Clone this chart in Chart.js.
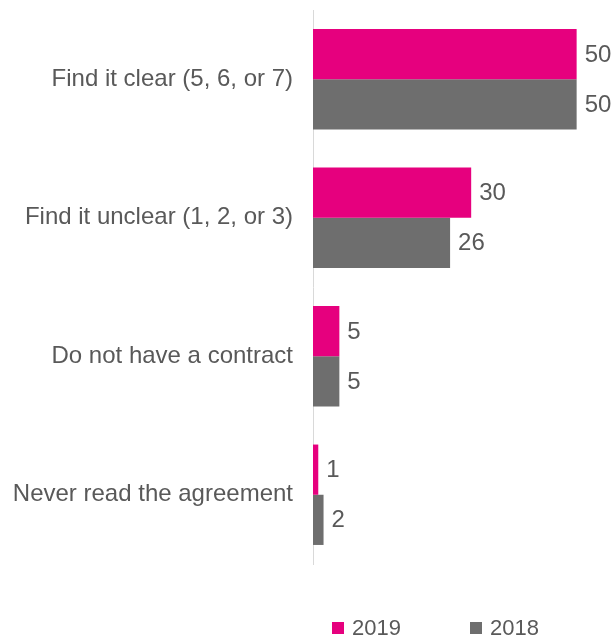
<!DOCTYPE html>
<html lang="en">
<head>
  <meta charset="UTF-8">
  <title>Contract clarity</title>
  <script src="https://cdn.jsdelivr.net/npm/chart.js"></script>
  <style>
    html, body { margin: 0; padding: 0; background: #fff; }
    #wrap { width: 613px; height: 640px; position: relative; }
  </style>
</head>
<body>
  <div id="wrap">
    <canvas id="grafico"></canvas>
  </div>
  <script>
    const categorias = [
      'Find it clear (5, 6, or 7)',
      'Find it unclear (1, 2, or 3)',
      'Do not have a contract',
      'Never read the agreement'
    ];
    const valores2019 = [50, 30, 5, 1];
    const valores2018 = [50, 26, 5, 2];
    const seriesLabels = ['2019', '2018'];

    const corTexto = '#595959';
    const fonte = 'Liberation Sans, Arial, sans-serif';

    // numero no fim de cada barra
    const rotulosValor = {
      id: 'rotulosValor',
      afterDatasetsDraw(chart) {
        const ctx = chart.ctx;
        ctx.save();
        ctx.fillStyle = corTexto;
        ctx.font = '24px ' + fonte;
        ctx.textAlign = 'left';
        ctx.textBaseline = 'middle';
        chart.data.datasets.forEach((ds, i) => {
          chart.getDatasetMeta(i).data.forEach((bar, j) => {
            ctx.fillText(ds.data[j], bar.x + 8, bar.y + 1);
          });
        });
        ctx.restore();
      }
    };

    // legenda desenhada na mao, embaixo
    const legendaBaixo = {
      id: 'legendaBaixo',
      afterDraw(chart) {
        const ctx = chart.ctx;
        const posX = [332, 470];
        const y = 628;
        ctx.save();
        ctx.font = '22px ' + fonte;
        ctx.textBaseline = 'middle';
        chart.data.datasets.forEach((ds, i) => {
          ctx.fillStyle = ds.backgroundColor;
          ctx.fillRect(posX[i], y - 6, 12, 12);
          ctx.fillStyle = corTexto;
          ctx.fillText(ds.label, posX[i] + 20, y + 1);
        });
        ctx.restore();
      }
    };

    const ctx = document.getElementById('grafico').getContext('2d');
    const grafico = new Chart(ctx, {
      type: 'bar',
      data: {
        labels: categorias,
        datasets: [
          {
            label: seriesLabels[0],
            data: valores2019,
            backgroundColor: '#E6007E',
            categoryPercentage: 0.725,
            barPercentage: 1
          },
          {
            label: seriesLabels[1],
            data: valores2018,
            backgroundColor: '#6E6E6E',
            categoryPercentage: 0.725,
            barPercentage: 1
          }
        ]
      },
      options: {
        indexAxis: 'y',
        responsive: true,
        maintainAspectRatio: false,
        animation: false,
        layout: { padding: { top: 10, bottom: 76, right: 10, left: 0 } },
        scales: {
          x: {
            display: false,
            min: 0,
            max: 55
          },
          y: {
            afterFit(scale) {
              scale.width = 313;
              scale.paddingTop = 0;
              scale.paddingBottom = 0;
            },
            grid: { display: false, drawTicks: false },
            border: { display: true, color: '#D9D9D9', width: 1 },
            ticks: {
              padding: 20,
              color: corTexto,
              font: { size: 24, family: fonte }
            }
          }
        },
        plugins: {
          legend: { display: false },
          tooltip: { enabled: false }
        }
      },
      plugins: [rotulosValor, legendaBaixo]
    });
  </script>
</body>
</html>
